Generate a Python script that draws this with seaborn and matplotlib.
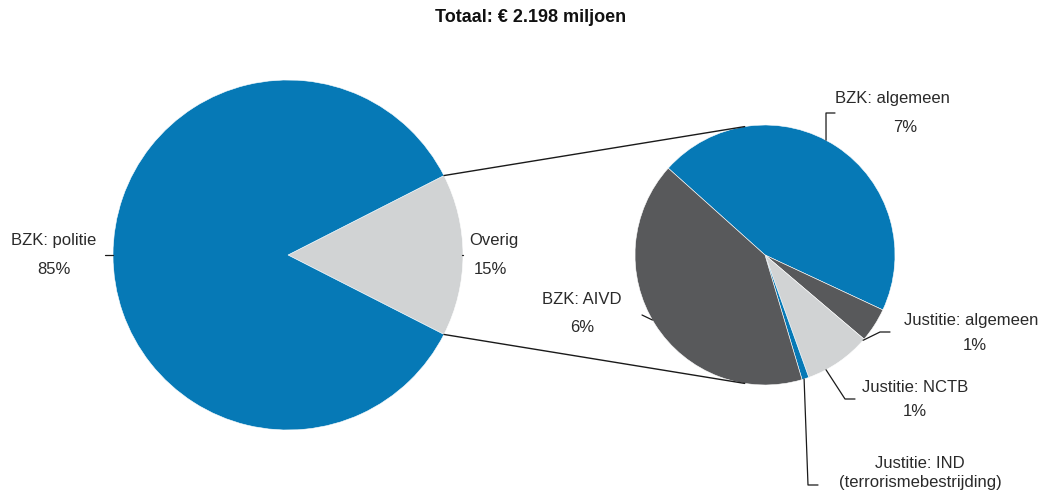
import matplotlib.pyplot as plt
import numpy as np
import seaborn as sns

sns.set_theme(style='white')
plt.rcParams['font.family'] = ['Liberation Sans Narrow', 'Liberation Sans', 'DejaVu Sans']

# data (share of total, %)
main_labels = ['Overig', 'BZK: politie']
main_values = [15, 85]
main_pct = ['15%', '85%']

sub_labels = ['BZK: algemeen', 'Justitie: algemeen', 'Justitie: NCTB',
              'Justitie: IND\n(terrorismebestrijding)', 'BZK: AIVD']
sub_values = [6.80, 0.64, 1.25, 0.13, 6.19]
sub_pct = ['7%', '1%', '1%', '', '6%']

title = 'Totaal: € 2.198 miljoen'

blue = '#0679b6'
light = '#d1d3d4'
dark = '#58595b'
text_c = '#2a2a2a'

main_colors = [light, blue]
sub_colors = [blue, dark, light, blue, dark]

W, H = 1053, 493
fig = plt.figure(figsize=(W / 100, H / 100), dpi=100)
ax = fig.add_axes([0, 0, 1, 1])

main_wedges, _ = ax.pie(main_values, colors=main_colors, startangle=-27,
                        counterclock=True, radius=175, center=(288, 238),
                        wedgeprops=dict(edgecolor='white', linewidth=0.4))
sub_wedges, _ = ax.pie(sub_values, colors=sub_colors, startangle=138.1,
                       counterclock=False, radius=130, center=(765, 238),
                       wedgeprops=dict(edgecolor='white', linewidth=0.4))
ax.set_xlim(0, W)
ax.set_ylim(0, H)
ax.set_aspect('auto')
ax.axis('off')


def edge_point(wedge, angle):
    cx, cy = wedge.center
    a = np.deg2rad(angle)
    return cx + wedge.r * np.cos(a), cy + wedge.r * np.sin(a)


# connector lines between the two pies
ov = main_wedges[0]
sub_c = sub_wedges[0]
for a_main, a_sub in [(ov.theta2, 99), (ov.theta1, -99)]:
    x0, y0 = edge_point(ov, a_main)
    x1, y1 = edge_point(sub_c, a_sub)
    ax.plot([x0, x1], [y0, y1], color='#1a1a1a', lw=1.0)

fs = 12
# label layout: (anchor angle on wedge, elbow points, text xy, ha)
main_layout = [
    (0, [(462, 238)], (469, 238), 'left'),
    (180, [(105, 238)], (54, 238), 'center'),
]

for wedge, lab, pct, (ang, pts, (tx, ty), ha) in zip(main_wedges, main_labels, main_pct, main_layout):
    x0, y0 = edge_point(wedge, ang)
    xs = [x0] + [p[0] for p in pts]
    ys = [y0] + [p[1] for p in pts]
    ax.plot(xs, ys, color='#1a1a1a', lw=0.9)
    ax.text(tx, ty + 14, lab, ha=ha, va='center', fontsize=fs, color=text_c)
    ax.text(tx + (21 if ha == 'left' else 0), ty - 14, pct, ha='center', va='center',
            fontsize=fs, color=text_c)

sub_layout = [
    (62, [(826, 380), (835, 380)], (892, 395), (905, 366)),
    (-41, [(880, 161), (890, 161)], (971, 173), (975, 147)),
    (-62, [(845, 94), (855, 94)], (915, 105), (915, 81)),
    (-72.5, [(808, 8), (818, 8)], (920, 20), None),
    (210, [(642, 178)], (582, 193), (582, 165)),
]

for wedge, lab, pct, (ang, pts, (tx, ty), ppos) in zip(sub_wedges, sub_labels, sub_pct, sub_layout):
    x0, y0 = edge_point(wedge, ang)
    xs = [x0] + [p[0] for p in pts]
    ys = [y0] + [p[1] for p in pts]
    ax.plot(xs, ys, color='#1a1a1a', lw=0.9)
    ax.text(tx, ty, lab, ha='center', va='center', fontsize=fs, color=text_c,
            linespacing=1.25)
    if ppos is not None:
        ax.text(ppos[0], ppos[1], pct, ha='center', va='center', fontsize=fs, color=text_c)

ax.text(W / 2 + 4, 476, title, ha='center', va='center', fontsize=13,
        fontweight='bold', color='#111111', family=['Liberation Sans', 'DejaVu Sans'])

fig.savefig('out.png', dpi=100)
